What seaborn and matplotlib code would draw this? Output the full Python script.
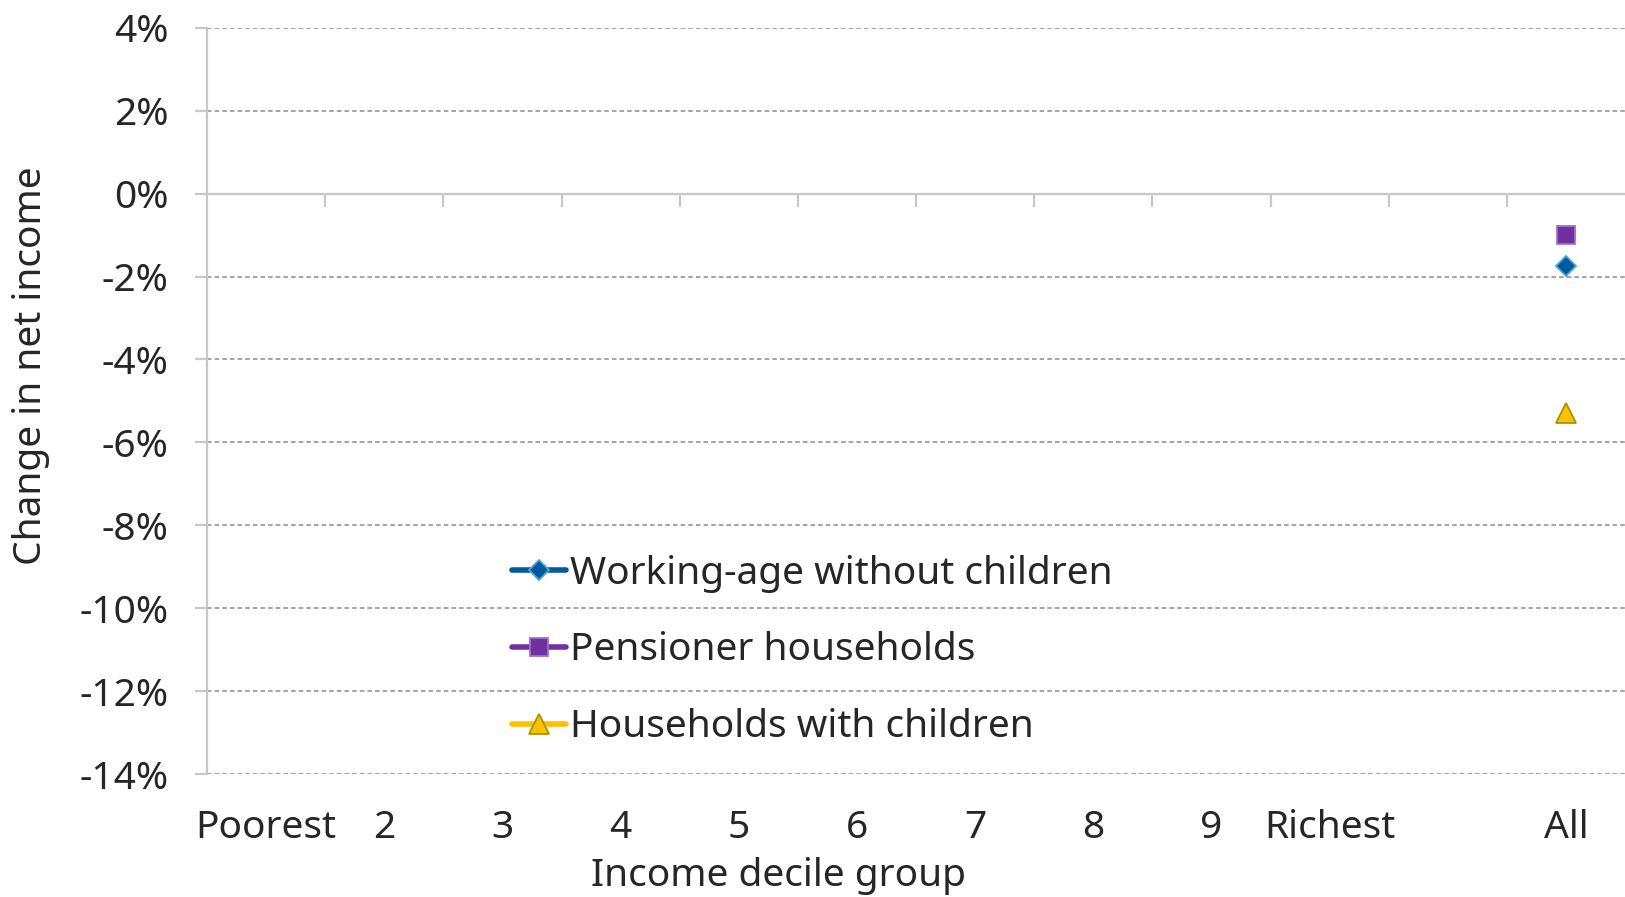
import numpy as np
import pandas as pd
import matplotlib
matplotlib.use("Agg")
import matplotlib.pyplot as plt
import seaborn as sns
from matplotlib.ticker import FuncFormatter

categories = ["Poorest", "2", "3", "4", "5", "6", "7", "8", "9", "Richest", "", "All"]
working_age = [np.nan] * 11 + [-1.75]
pensioners = [np.nan] * 11 + [-1.0]
with_children = [np.nan] * 11 + [-5.3]
series_names = ["Working-age without children", "Pensioner households", "Households with children"]
yticks = list(range(-14, 5, 2))

sns.set_theme(style="white")
plt.rcParams["font.family"] = ["Noto Sans", "DejaVu Sans"]

FS = 28

fig = plt.figure(figsize=(16.25, 8.97), dpi=100)
ax = fig.add_axes([0.1274, 0.137, 0.8726, 0.832])

pos = np.arange(len(categories))
df = pd.DataFrame({"pos": pos, "w": working_age, "p": pensioners, "c": with_children})

styles = [
    ("w", series_names[0], "#005A9C", "D", 10, "#4BA3D6"),
    ("p", series_names[1], "#7030A0", "s", 13, "#9E72CC"),
    ("c", series_names[2], "#FFC000", "^", 15, "#9C9A00"),
]
for col, name, colr, mk, ms, mec in styles:
    sns.lineplot(data=df, x="pos", y=col, ax=ax, color=colr, marker=mk,
                 markersize=ms, markeredgecolor=mec, markeredgewidth=1.3,
                 linewidth=4, label=name)

ax.set_xlim(-0.5, len(categories) - 0.5)
ax.set_ylim(-14, 4)
ax.set_yticks(yticks)
ax.yaxis.set_major_formatter(FuncFormatter(lambda v, _: f"{int(v)}%"))
ax.set_xticks(pos)
ax.set_xticklabels(categories)

ax.grid(axis="y", color="#8C8C8C", linestyle=(0, (3, 2)), linewidth=1.1)
ax.grid(axis="x", visible=False)
ax.axhline(0, color="#C8C8C8", linewidth=1.6, zorder=1.5)
bounds = np.arange(0.5, len(categories) - 0.5, 1.0)
ax.vlines(bounds, -0.33, 0, color="#C8C8C8", linewidth=1.6)

for s in ["top", "right", "bottom"]:
    ax.spines[s].set_visible(False)
ax.spines["left"].set_color("#C8C8C8")
ax.spines["left"].set_linewidth(1.6)

ax.tick_params(axis="y", which="major", length=9, width=1.6, color="#C8C8C8",
               labelsize=FS, pad=19, left=True)
ax.tick_params(axis="x", length=0, labelsize=FS, pad=25)

ax.set_xlabel("Income decile group", fontsize=FS)
ax.xaxis.set_label_coords(0.403, -0.111)
ax.xaxis.label.set_va("top")
ax.set_ylabel("Change in net income", fontsize=FS)
ax.yaxis.label.set_va("center")
ax.yaxis.set_label_coords(-0.124, 0.547)

leg = ax.legend(loc="upper left", bbox_to_anchor=(0.204, 0.315), frameon=False,
                fontsize=FS, handlelength=1.39, handletextpad=0.1,
                labelspacing=1.0, borderaxespad=0)

fig.savefig("out.png", dpi=100)
